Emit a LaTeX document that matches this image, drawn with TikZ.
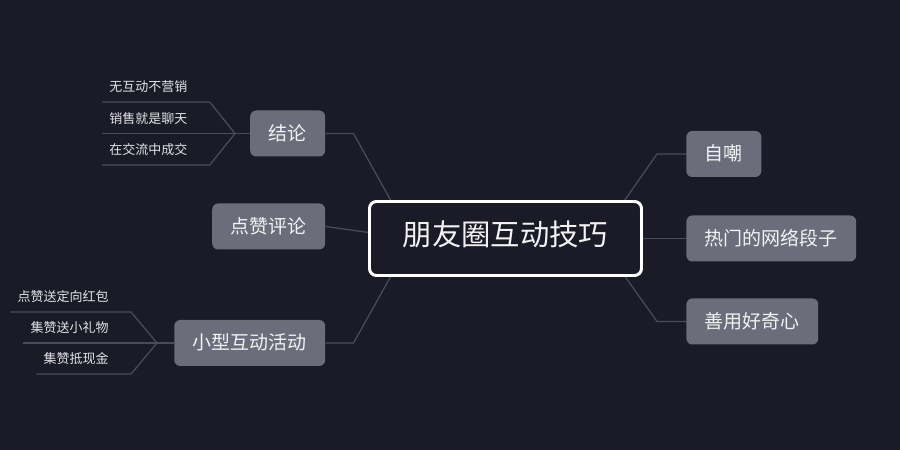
\documentclass[tikz,border=0pt]{standalone}
\usepackage{fontspec}
\setmainfont{Noto Sans CJK SC}
\usetikzlibrary{backgrounds}
\definecolor{mapBg}{HTML}{1A1B26}
\definecolor{mapNode}{HTML}{6B6E7A}
\definecolor{mapLine}{HTML}{4A4C58}
\definecolor{mapText}{HTML}{F2F2F2}
\definecolor{mapLeaf}{HTML}{E2E2E6}
\tikzset{
  mapfig/.style={
    every node/.append style={text height=0.88em, text depth=0.12em},
  },
  rootnode/.style={
    draw=white, line width=1.7pt, fill=mapBg, rounded corners=4pt,
    text=mapText, font=\fontsize{16.7}{20}\selectfont,
    minimum width=5.44cm, minimum height=1.48cm,
  },
  topicnode/.style={
    fill=mapNode, rounded corners=3.4pt, text=mapText,
    font=\fontsize{10.8}{13}\selectfont,
    inner xsep=0.37cm, minimum height=0.92cm,
  },
  % Blaetter: nur Text, die Unterstreichung kommt mit dem Verbinder.
  leafnode/.style={
    text=mapLeaf, font=\fontsize{7.4}{9}\selectfont,
    inner xsep=0.14cm, inner ysep=0.2cm, text depth=0pt,
  },
  branch/.style={draw=mapLine, line width=0.7pt},
}

\begin{document}
\begin{tikzpicture}[mapfig]
  \useasboundingbox (0,0) rectangle (18,9);
  \begin{scope}[on background layer]
    \fill[mapBg] (0,0) rectangle (18,9);
  \end{scope}
  \node[rootnode] (Root) at (10.11,4.23) {朋友圈互动技巧};
  \coordinate (hubL) at (8.24,4.23);
  \coordinate (hubR) at (11.96,4.23);
  % rechte Seite
  \node[topicnode, anchor=west] (SelfMock) at (13.72,5.92) {自嘲};
  \node[topicnode, anchor=west] (HotMeme) at (13.72,4.23) {热门的网络段子};
  \node[topicnode, anchor=west] (Curious) at (13.72,2.57) {善用好奇心};
  % linke Seite
  \node[topicnode, anchor=east] (Conclusion) at (6.51,6.33) {结论};
  \node[topicnode, anchor=east] (LikeComment) at (6.51,4.47) {点赞评论};
  \node[topicnode, anchor=east] (SmallEvent) at (6.51,2.14) {小型互动活动};
  \coordinate (forkA) at (4.70,6.33);
  \coordinate (forkB) at (3.14,2.14);
  \node[leafnode, anchor=south west] (LeafA1) at (2.04,6.96) {无互动不营销};
  \node[leafnode, anchor=south west] (LeafA2) at (2.04,6.33) {销售就是聊天};
  \node[leafnode, anchor=south west] (LeafA3) at (2.04,5.70) {在交流中成交};
  \node[leafnode, anchor=south east] (LeafB1) at (2.32,2.76) {点赞送定向红包};
  \node[leafnode, anchor=south east] (LeafB2) at (2.32,2.14) {集赞送小礼物};
  \node[leafnode, anchor=south east] (LeafB3) at (2.32,1.52) {集赞抵现金};
  \begin{scope}[on background layer]
    \draw[branch] (hubR) -- ([xshift=-0.58cm]SelfMock.west) -- (SelfMock.west);
    \draw[branch] (hubR) -- (HotMeme.west);
    \draw[branch] (hubR) -- ([xshift=-0.58cm]Curious.west) -- (Curious.west);
    \draw[branch] (hubL) -- ([xshift=0.56cm]Conclusion.east) -- (Conclusion.east);
    \draw[branch] (hubL) -- (LikeComment.east);
    \draw[branch] (hubL) -- ([xshift=0.56cm]SmallEvent.east) -- (SmallEvent.east);
    \draw[branch] (LeafA1.south west) -- ([xshift=0.3cm]LeafA1.south east) -- (forkA);
    \draw[branch] (LeafA2.south west) -- (forkA) -- (Conclusion.west);
    \draw[branch] (LeafA3.south west) -- ([xshift=0.3cm]LeafA3.south east) -- (forkA);
    \draw[branch] (LeafB1.south west) -- ([xshift=0.3cm]LeafB1.south east) -- (forkB);
    \draw[branch] (LeafB2.south west) -- (forkB) -- (SmallEvent.west);
    \draw[branch] (LeafB3.south west) -- ([xshift=0.3cm]LeafB3.south east) -- (forkB);
  \end{scope}
\end{tikzpicture}
\end{document}
